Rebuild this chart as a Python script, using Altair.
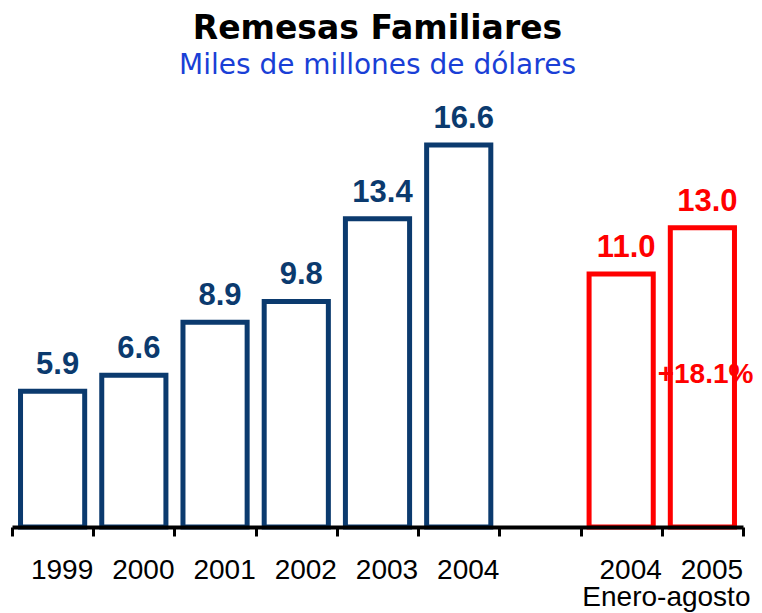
import altair as alt
import pandas as pd

# Category keys (the "gap" slot separates the annual series from the Jan-Aug comparison)
domain_keys = ["1999", "2000", "2001", "2002", "2003", "2004", "gap", "2004E", "2005E"]
bar_keys = ["1999", "2000", "2001", "2002", "2003", "2004", "2004E", "2005E"]
values = [5.9, 6.6, 8.9, 9.8, 13.4, 16.6, 11.0, 13.0]
value_labels = ["5.9", "6.6", "8.9", "9.8", "13.4", "16.6", "11.0", "13.0"]
groups = ["Anual"] * 6 + ["Enero-agosto"] * 2
group_names = ["Anual", "Enero-agosto"]
group_colors = ["#0b3a6e", "#ff0000"]

growth_text = ["+18.1%"]
growth_key = ["2005E"]
growth_y = [6.26]

period_text = ["Enero-agosto"]
period_key = ["2005E"]

df = pd.DataFrame({"key": bar_keys, "value": values, "label": value_labels, "group": groups})
growth_df = pd.DataFrame({"key": growth_key, "text": growth_text, "y": growth_y})
period_df = pd.DataFrame({"key": period_key, "text": period_text})

W, H = 731, 428

xscale = alt.Scale(domain=domain_keys, paddingInner=0, paddingOuter=0)
yscale = alt.Scale(domain=[0, 18.6], nice=False)
color_scale = alt.Scale(domain=group_names, range=group_colors)

x_axis = alt.Axis(
    title=None,
    labelExpr="(datum.value == null || datum.value == 'gap') ? '' : replace(datum.value, 'E', '')",
    tickBand="extent",
    domainColor="black",
    domainWidth=4,
    tickColor="black",
    tickWidth=3,
    tickSize=9,
    labelFont="Liberation Sans",
    labelFontSize=28,
    labelColor="black",
    labelPadding=42,
    labelBaseline="alphabetic",
    labelAngle=0,
    labelOffset=9,
    labelOverlap=False,
    labelLimit=200,
    zindex=1,
    grid=False,
)

base = alt.Chart(df)

bars = base.mark_bar(
    fill="white", fillOpacity=1, strokeWidth=5, strokeJoin="miter",
    width=alt.RelativeBandSize(0.79),
).encode(
    x=alt.X("key:N", scale=xscale, axis=x_axis),
    y=alt.Y("value:Q", scale=yscale, axis=None),
    stroke=alt.Stroke("group:N", scale=color_scale, legend=None),
)

labels = base.mark_text(
    font="Liberation Sans", fontWeight="bold", fontSize=31,
    baseline="alphabetic", dy=-17, dx=5,
).encode(
    x=alt.X("key:N", scale=xscale),
    y=alt.Y("value:Q", scale=yscale),
    text="label:N",
    color=alt.Color("group:N", scale=color_scale, legend=None),
)

growth = alt.Chart(growth_df).mark_text(
    font="Liberation Sans", fontWeight="bold", fontSize=28,
    baseline="alphabetic", align="right", color="#ff0000", dx=51,
).encode(
    x=alt.X("key:N", scale=xscale),
    y=alt.Y("y:Q", scale=yscale),
    text="text:N",
)

period = alt.Chart(period_df).mark_text(
    font="Liberation Sans", fontSize=28, baseline="alphabetic",
    color="black", dx=-36,
).encode(
    x=alt.X("key:N", scale=xscale),
    y=alt.value(507),
    text="text:N",
)

chart = alt.layer(bars, labels, growth, period).properties(
    width=W,
    height=H,
    title=alt.TitleParams(
        text="Remesas Familiares",
        subtitle="Miles de millones de dólares",
        font="DejaVu Sans",
        fontSize=33,
        fontWeight="bold",
        color="black",
        subtitleFont="DejaVu Sans",
        subtitleFontSize=28,
        subtitleColor="#1a3fd6",
        anchor="middle",
        offset=19,
        subtitlePadding=6,
    ),
    autosize=alt.AutoSizeParams(type="none"),
    padding={"left": 4, "top": 91, "right": 11, "bottom": 86},
    background="white",
).configure_view(stroke=None)

chart.save("out.html", embed_options={"renderer": "svg", "actions": False})
